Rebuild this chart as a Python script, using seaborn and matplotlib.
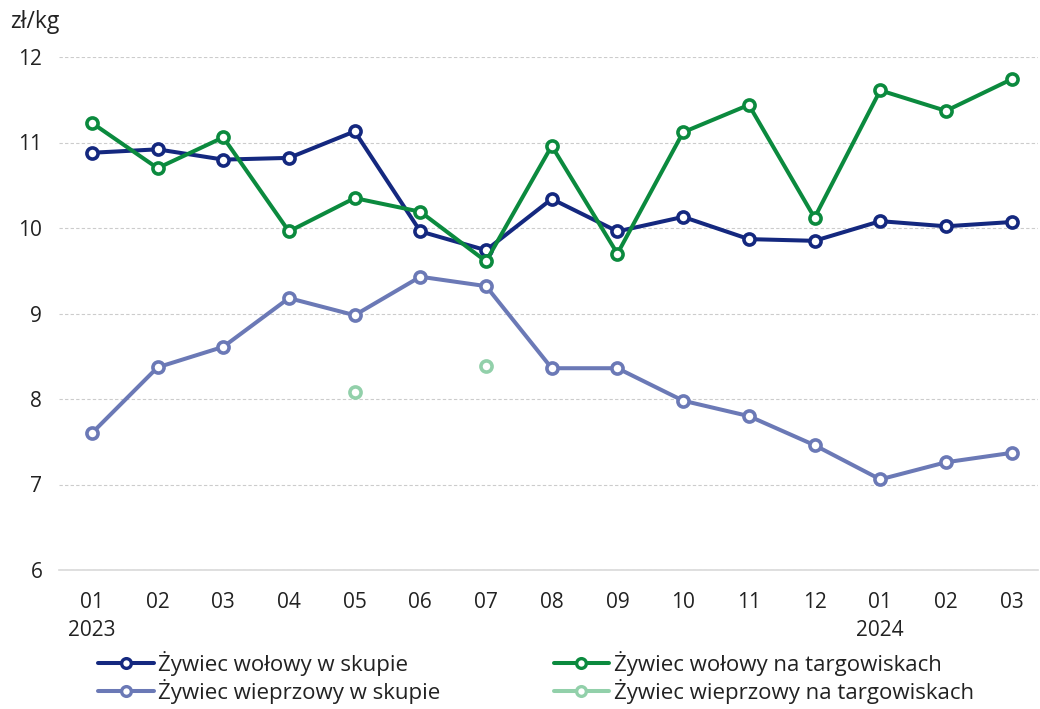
import numpy as np
import pandas as pd
import matplotlib
matplotlib.use("Agg")
import matplotlib.pyplot as plt
from matplotlib.lines import Line2D
import seaborn as sns

months = ["01", "02", "03", "04", "05", "06", "07", "08", "09", "10", "11", "12", "01", "02", "03"]
years = ["2023", "", "", "", "", "", "", "", "", "", "", "", "2024", "", ""]

wolowy_skup = [10.88, 10.92, 10.80, 10.82, 11.13, 9.96, 9.74, 10.34, 9.96, 10.13, 9.87, 9.85, 10.08, 10.02, 10.07]
wolowy_targ = [11.23, 10.70, 11.06, 9.96, 10.35, 10.19, 9.61, 10.96, 9.70, 11.12, 11.44, 10.12, 11.61, 11.37, 11.74]
wieprz_skup = [7.60, 8.37, 8.61, 9.18, 8.98, 9.43, 9.32, 8.36, 8.36, 7.98, 7.80, 7.46, 7.06, 7.26, 7.37]
wieprz_targ = [np.nan, np.nan, np.nan, np.nan, 8.08, np.nan, 8.39, np.nan, np.nan, np.nan, np.nan, np.nan, np.nan, np.nan, np.nan]

names = ["Żywiec wołowy w skupie", "Żywiec wołowy na targowiskach",
         "Żywiec wieprzowy w skupie", "Żywiec wieprzowy na targowiskach"]
colors = ["#14287f", "#0b8a3e", "#6b79b6", "#92d0aa"]

sns.set_theme(style="white")
plt.rcParams['font.family'] = ['Open Sans', 'DejaVu Sans']

fig = plt.figure(figsize=(10.4, 7.09), dpi=100)
ax = fig.add_axes([59/1040, 1 - 570/709, 1 - 59/1040 - 0.002, (570 - 57)/709])

x = np.arange(len(months))
series = [wolowy_skup, wolowy_targ, wieprz_skup]
mk = dict(marker="o", markersize=8, markerfacecolor="white", markeredgewidth=2.6)
for vals, c in zip(series, [colors[0], colors[1], colors[2]]):
    df = pd.DataFrame({"x": x, "y": vals})
    sns.lineplot(data=df, x="x", y="y", ax=ax, color=c, linewidth=2.9,
                 markeredgecolor=c, **mk)

df4 = pd.DataFrame({"x": x, "y": wieprz_targ}).dropna()
sns.scatterplot(data=df4, x="x", y="y", ax=ax, marker="o", s=64,
                facecolor="white", edgecolor=colors[3], linewidth=2.6, zorder=5)

ax.set_ylim(6, 12)
ax.set_xlim(-0.5, 14.4)
ax.set_yticks([6, 7, 8, 9, 10, 11, 12])
ax.set_xticks(x)
ax.set_xticklabels([m + ("\n" + y if y else "") for m, y in zip(months, years)],
                   fontsize=15, color="#222222", linespacing=1.45, va="top")
ax.tick_params(axis="y", labelsize=15, labelcolor="#222222", pad=12, length=0)
ax.tick_params(axis="x", pad=16, length=0)
ax.set_xlabel("")
ax.set_ylabel("")
ax.grid(axis="y", color="#cccccc", linestyle=(0, (3, 2)), linewidth=0.8)
ax.grid(axis="x", visible=False)
for s in ["top", "right", "left"]:
    ax.spines[s].set_visible(False)
ax.spines["bottom"].set_color("#d9d9d9")
ax.spines["bottom"].set_linewidth(1.2)

fig.text(10/1040, 1 - 22/709, "zł/kg", fontsize=16.5, color="#222222", va="center", ha="left")

handles = []
for n, c in zip(names, colors):
    handles.append(Line2D([0], [0], color=c, linewidth=2.9, marker="o", markersize=7,
                          markerfacecolor="white", markeredgecolor=c, markeredgewidth=2.4, label=n))
order = [0, 2, 1, 3]
fig.legend([handles[i] for i in order], [names[i] for i in order], ncol=2,
           loc="upper left", bbox_to_anchor=(78/1040, 1 - 631/709), frameon=False,
           fontsize=16, handlelength=2.5, handletextpad=0.2, columnspacing=5.1,
           labelspacing=0.12, labelcolor="#222222")

fig.savefig("out.png", dpi=100)
